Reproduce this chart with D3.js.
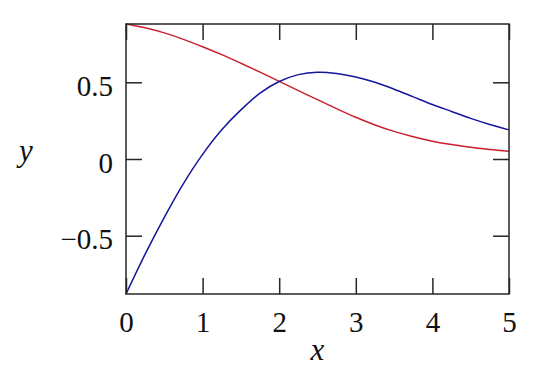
<!DOCTYPE html>
<html>
<head>
<meta charset="utf-8">
<script src="https://cdn.jsdelivr.net/npm/d3@7"></script>
<style>
  html, body { margin: 0; padding: 0; background: #fff; }
  svg { display: block; }
  text { font-family: "Liberation Serif", "DejaVu Serif", serif; fill: #111; }
</style>
</head>
<body>
<svg id="chart" width="540" height="385"></svg>
<script>
// Data
const xs = [0, 0.25, 0.5, 0.75, 1, 1.25, 1.5, 1.75, 2, 2.25, 2.5, 2.75, 3, 3.25, 3.5, 3.75, 4, 4.25, 4.5, 4.75, 5];
const redValues = [0.88, 0.855, 0.822, 0.78, 0.732, 0.68, 0.624, 0.566, 0.506, 0.446, 0.387, 0.328, 0.272, 0.222, 0.180, 0.145, 0.116, 0.094, 0.077, 0.062, 0.05];
const blueValues = [-0.88, -0.62, -0.38, -0.16, 0.03, 0.19, 0.32, 0.43, 0.505, 0.55, 0.566, 0.558, 0.535, 0.50, 0.455, 0.405, 0.355, 0.31, 0.265, 0.225, 0.19];
const xTicks = [0, 1, 2, 3, 4, 5];
const yTicks = [-0.5, 0, 0.5];
const yTickLabels = ["\u22120.5", "0", "0.5"];
const xLabel = "x";
const yLabel = "y";

(function () {
const svg = d3.select("#chart");
const mLeft = 126, mRight = 509, mTop = 24, mBottom = 294;
const x = d3.scaleLinear().domain([0, 5]).range([mLeft, mRight]);
const y = d3.scaleLinear().domain([-0.88, 0.88]).range([mBottom, mTop]);
const tickLen = 16;
const frameColor = "#262626";
const fontFam = "'Liberation Serif', 'DejaVu Serif', serif";

// series
const line = d3.line().x((d, i) => x(xs[i])).y(d => y(d)).curve(d3.curveCatmullRom.alpha(0.5));
const plot = svg.append("g");
plot.append("path").datum(redValues).attr("d", line)
  .attr("fill", "none").attr("stroke", "#c9202c").attr("stroke-width", 1.5);
plot.append("path").datum(blueValues).attr("d", line)
  .attr("fill", "none").attr("stroke", "#16169a").attr("stroke-width", 1.5);

// axes with inward ticks on all four sides
const fmt = d3.format("d");
const axB = d3.axisBottom(x).tickValues(xTicks).tickSize(-tickLen).tickPadding(18).tickFormat(fmt);
const axT = d3.axisTop(x).tickValues(xTicks).tickSize(-tickLen).tickFormat("");
const axL = d3.axisLeft(y).tickValues(yTicks).tickSize(-tickLen).tickPadding(13)
  .tickFormat(d => yTickLabels[yTicks.indexOf(d)]);
const axR = d3.axisRight(y).tickValues(yTicks).tickSize(-tickLen).tickFormat("");

function style(g) {
  g.attr("font-family", fontFam).attr("font-size", 29);
  g.selectAll(".domain").remove();
  g.selectAll(".tick line").attr("stroke", frameColor).attr("stroke-width", 1.5);
  g.selectAll("text").attr("font-family", fontFam).attr("font-size", 29).attr("fill", "#111");
}
svg.append("g").attr("transform", `translate(0,${mBottom})`).call(axB).call(style)
  .selectAll("text").attr("dy", "0.7em");
svg.append("g").attr("transform", `translate(0,${mTop})`).call(axT).call(style);
svg.append("g").attr("transform", `translate(${mLeft},0)`).call(axL).call(style)
  .selectAll("text").attr("dy", "0.45em");
svg.append("g").attr("transform", `translate(${mRight},0)`).call(axR).call(style);

// frame
svg.append("rect").attr("x", mLeft).attr("y", mTop).attr("width", mRight - mLeft).attr("height", mBottom - mTop)
  .attr("fill", "none").attr("stroke", frameColor).attr("stroke-width", 1.5);

// axis labels
svg.append("text").attr("x", (mLeft + mRight) / 2).attr("y", 360).attr("text-anchor", "middle")
  .attr("font-family", fontFam).attr("font-style", "italic").attr("font-size", 31).text(xLabel);
svg.append("text").attr("x", 26).attr("y", 161).attr("text-anchor", "middle")
  .attr("font-family", fontFam).attr("font-style", "italic").attr("font-size", 31).text(yLabel);
})();
</script>
</body>
</html>
